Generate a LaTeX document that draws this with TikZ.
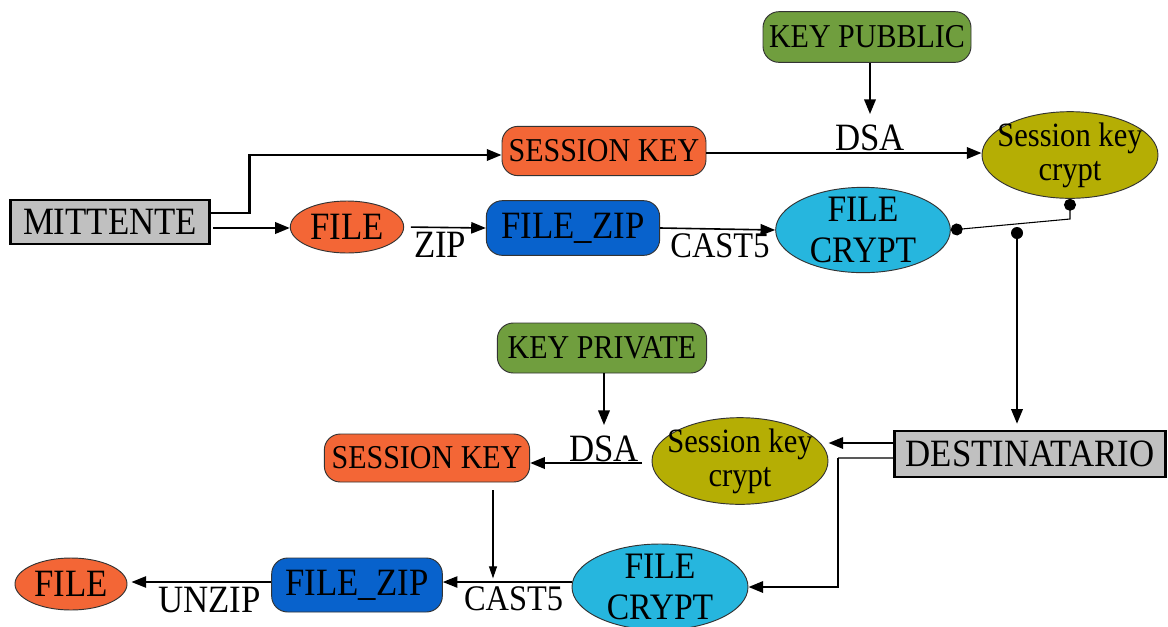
\documentclass[tikz,border=0pt]{standalone}
\usepackage{fontspec}
\setmainfont[FakeStretch=0.9]{Liberation Serif}
\usetikzlibrary{arrows.meta,shapes.geometric,calc}

\definecolor{cOrange}{RGB}{243,102,54}
\definecolor{cGreen}{RGB}{112,158,62}
\definecolor{cOlive}{RGB}{181,174,4}
\definecolor{cBlue}{RGB}{8,98,204}
\definecolor{cCyan}{RGB}{38,182,222}
\definecolor{cGray}{RGB}{192,192,192}

\tikzset{
  party/.style={rectangle, draw=black, line width=1.8pt, fill=cGray, inner sep=0pt,
    font=\fontsize{29}{31}\selectfont},
  pill/.style={rectangle, rounded corners=12pt, draw=black!80, line width=0.7pt, inner sep=0pt},
  oval/.style={ellipse, draw=black!80, line width=0.7pt, inner sep=0pt},
  big/.style={font=\fontsize{29}{31}\selectfont},
  mid/.style={font=\fontsize{25}{26}\selectfont},
  keyfont/.style={font=\fontsize{25}{26}\selectfont},
  skfont/.style={font=\fontsize{25.5}{25.5}\selectfont, align=center, inner sep=0pt},
  cryfont/.style={font=\fontsize{28}{31}\selectfont, align=center, inner sep=0pt},
  lbl/.style={inner sep=0pt, font=\fontsize{29}{31}\selectfont},
  flow/.style={line width=1.8pt, -{Triangle[length=11pt,width=8.5pt]}},
  opflow/.style={line width=1.2pt, -{Triangle[length=11pt,width=8.5pt]}},
  thinflow/.style={line width=0.8pt, -{Triangle[length=9pt,width=6pt]}},
  dotlink/.style={line width=0.8pt, {Circle[length=9pt]}-{Circle[length=9pt]}}
}

\begin{document}
\begin{tikzpicture}[x=0.75pt,y=-0.75pt]
\useasboundingbox (0,0) rectangle (1168,626);

% sender side
\node[party, minimum width=149pt, minimum height=33pt] (mit) at (110,222) {MITTENTE};
\node[oval, fill=cOrange, minimum width=85pt, minimum height=39pt,
  label={[big, inner sep=0pt]center:FILE}] (file1) at (347,227) {};
\node[pill, mid, fill=cOrange, minimum width=153pt, minimum height=37pt] (sk1) at (604,151) {SESSION KEY};
\node[pill, keyfont, fill=cGreen, minimum width=156pt, minimum height=38pt] (kpub) at (867,37) {KEY PUBBLIC};
\node[oval, fill=cOlive, minimum width=132pt, minimum height=65pt,
  label={[skfont]center:Session key\\crypt}] (skc1) at (1070,155) {};
\node[pill, big, fill=cBlue, minimum width=130pt, minimum height=41pt] (fz1) at (573,228) {FILE\_ZIP};
\node[oval, fill=cCyan, minimum width=131pt, minimum height=64pt,
  label={[cryfont]center:FILE\\CRYPT}] (fc1) at (863,230) {};
\node[lbl] (dsa1) at (870,138) {DSA};

% receiver side
\node[party, minimum width=203pt, minimum height=34.5pt] (dest) at (1030,454) {DESTINATARIO};
\node[pill, keyfont, fill=cGreen, minimum width=157pt, minimum height=37.5pt] (kpriv) at (602,348) {KEY PRIVATE};
\node[oval, fill=cOlive, minimum width=132pt, minimum height=65pt,
  label={[skfont]center:Session key\\crypt}] (skc2) at (740,461) {};
\node[pill, mid, fill=cOrange, minimum width=154pt, minimum height=36pt] (sk2) at (427,458) {SESSION KEY};
\node[oval, fill=cCyan, minimum width=132pt, minimum height=64.5pt,
  label={[cryfont]center:FILE\\CRYPT}] (fc2) at (660,587) {};
\node[pill, big, fill=cBlue, minimum width=128pt, minimum height=40.5pt] (fz2) at (357,585) {FILE\_ZIP};
\node[oval, fill=cOrange, minimum width=84pt, minimum height=39pt,
  label={[big, inner sep=0pt]center:FILE}] (file2) at (71,584) {};
\node[lbl] (dsa2) at (604,449) {DSA};

% sender connectors
\draw[flow] ([yshift=6.75pt]mit.east) -- ++(39,0) |- ([yshift=-3pt]sk1.west);
\draw[flow, shorten <=2pt] ([yshift=-4.5pt]mit.east) -- ([yshift=-4.5pt]mit.east -| file1.west);
\draw[opflow, shorten <=5pt] (file1.east) -- (fz1.west)
  node[lbl, pos=0.44, below=3pt] {ZIP};
\draw[opflow] (fz1.east) -- (fc1.west)
  node[lbl, pos=0.52, below=3pt, font=\fontsize{27}{28}\selectfont] {CAST5};
\draw[flow, shorten >=8pt] (dsa1.north |- kpub.south) -- (dsa1.north);
\draw[flow] ([yshift=-1.5pt]sk1.east) -- ([yshift=-1.5pt]sk1.east -| skc1.west);

% keys and file are sent on together
\coordinate (bend) at (1070,219);
\draw[dotlink] (fc1.east) -- (bend) -- (skc1.south);
\coordinate (drop) at (1017,233);
\fill (drop) circle (4.5pt);
\draw[flow, shorten >=4.5pt] (drop) -- (drop |- dest.north);

% receiver connectors
\draw[flow] ([yshift=8.25pt]dest.west) -- ([yshift=8.25pt]dest.west -| skc2.east);
\coordinate (turn) at (838,458);
\draw[line width=1.1pt, black!65] ([yshift=-3pt]dest.west) -- (turn);
\draw[flow] (turn) |- (fc2.east);
\draw[flow, shorten >=8pt] (dsa2.north |- kpriv.south) -- (dsa2.north);
\draw[flow, shorten <=7pt] ([yshift=-1.5pt]skc2.west) -- ([yshift=-1.5pt]skc2.west -| sk2.east);
\draw[thinflow, shorten <=6pt, shorten >=5pt] ([xshift=49.5pt]sk2.south) -- ([xshift=49.5pt]sk2.south |- fz2.east);
\draw[opflow] ([yshift=3.75pt]fc2.west) -- ([yshift=3.75pt]fc2.west -| fz2.east)
  node[lbl, pos=0.45, below=3pt, font=\fontsize{27}{28}\selectfont] {CAST5};
\draw[opflow, shorten >=3pt] ([yshift=2.25pt]fz2.west) -- ([yshift=2.25pt]fz2.west -| file2.east)
  node[lbl, pos=0.43, below=3pt] {UNZIP};
\end{tikzpicture}
\end{document}
